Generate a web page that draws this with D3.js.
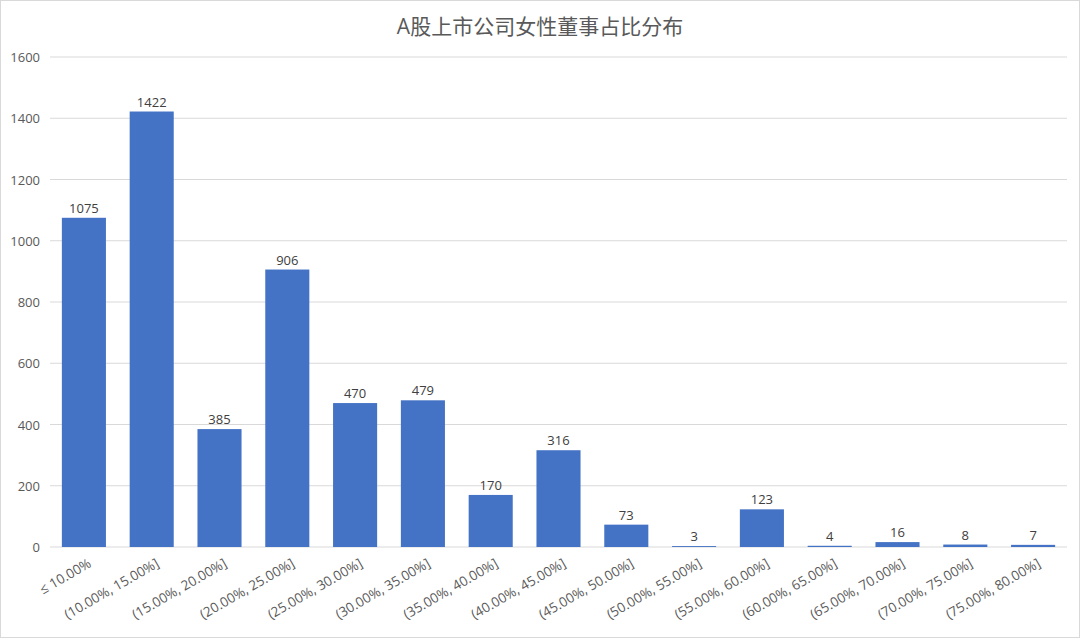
<!DOCTYPE html>
<html><head><meta charset="utf-8">
<script src="https://cdn.jsdelivr.net/npm/d3@7"></script>
<style>body{margin:0;background:#fff}svg{font-family:"Open Sans","Noto Sans CJK SC",sans-serif}</style>
</head><body>
<svg id="c" width="1080" height="638"></svg>
<script>
var categories = ["≤ 10.00%","(10.00%, 15.00%]","(15.00%, 20.00%]","(20.00%, 25.00%]","(25.00%, 30.00%]","(30.00%, 35.00%]","(35.00%, 40.00%]","(40.00%, 45.00%]","(45.00%, 50.00%]","(50.00%, 55.00%]","(55.00%, 60.00%]","(60.00%, 65.00%]","(65.00%, 70.00%]","(70.00%, 75.00%]","(75.00%, 80.00%]"];
var values = [1075,1422,385,906,470,479,170,316,73,3,123,4,16,8,7];
var yTicks = [0,200,400,600,800,1000,1200,1400,1600];

var svg = d3.select('#c');
svg.append('rect').attr('x',0.5).attr('y',0.5).attr('width',1079).attr('height',637)
  .attr('fill','#fff').attr('stroke','#d9d9d9');
var x = d3.scaleBand().domain(categories).range([50,1067]).paddingInner(0.35).paddingOuter(0.175);
var y = d3.scaleLinear().domain([0,1600]).range([547,57]);

svg.append('g').selectAll('line').data(yTicks).join('line')
  .attr('x1',50).attr('x2',1067).attr('y1',d=>y(d)).attr('y2',d=>y(d))
  .attr('stroke','#d9d9d9');
svg.append('g').selectAll('text').data(yTicks).join('text')
  .attr('x',40).attr('y',d=>y(d)+5).attr('text-anchor','end')
  .attr('font-size',13).attr('fill','#595959').text(d=>d);

svg.append('g').selectAll('rect').data(values).join('rect')
  .attr('x',(d,i)=>x(categories[i])).attr('width',x.bandwidth())
  .attr('y',d=>y(d)).attr('height',d=>y(0)-y(d)).attr('fill','#4472c4');
svg.append('g').selectAll('text').data(values).join('text')
  .attr('x',(d,i)=>x(categories[i])+x.bandwidth()/2).attr('y',d=>y(d)-5)
  .attr('text-anchor','middle').attr('font-size',13).attr('fill','#404040').text(d=>d);

svg.append('g').selectAll('text').data(categories).join('text')
  .attr('transform',d=>'translate('+(x(d)+x.bandwidth()/2+6)+',562) rotate(-30)')
  .attr('text-anchor','end').attr('dy','0.35em')
  .attr('font-size',13.5).attr('fill','#595959').text(d=>d);

svg.append('text').attr('x',540).attr('y',34).attr('text-anchor','middle')
  .attr('font-size',21).attr('fill','#595959').text('A股上市公司女性董事占比分布');
</script></body></html>
